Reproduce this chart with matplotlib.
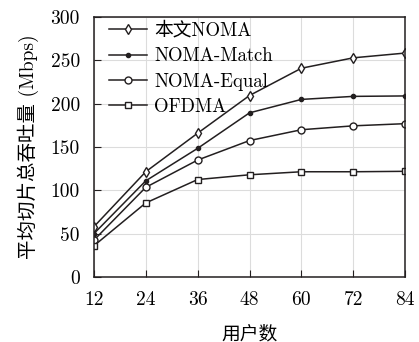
import numpy as np
import matplotlib
matplotlib.use('Agg')
import matplotlib.pyplot as plt

users = [12, 24, 36, 48, 60, 72, 84]
noma_ours = [58, 121.5, 166, 209.5, 241, 253, 258.5]
noma_match = [50, 111, 148.5, 189.5, 205, 208.5, 209]
noma_equal = [42.5, 103.5, 135, 157.5, 170, 174.5, 177]
ofdma = [36, 85.5, 112.5, 118, 121.5, 121.5, 122]
names = ['本文NOMA', 'NOMA-Match', 'NOMA-Equal', 'OFDMA']

plt.rcParams['font.family'] = ['cmr10', 'Noto Sans CJK SC']
plt.rcParams['axes.unicode_minus'] = False

fig = plt.figure(figsize=(4.19, 3.42), dpi=100)
ax = fig.add_axes([0.224, 0.19, 0.743, 0.76])
c = '#231f20'
ax.plot(users, noma_ours, color=c, lw=1.1, marker='d', ms=5, mfc='white', mew=1, label=names[0])
ax.plot(users, noma_match, color=c, lw=1.1, marker='o', ms=3, mfc=c, label=names[1])
ax.plot(users, noma_equal, color=c, lw=1.1, marker='o', ms=5, mfc='white', mew=1, label=names[2])
ax.plot(users, ofdma, color=c, lw=1.1, marker='s', ms=4, mfc='white', mew=1, label=names[3])

ax.set_xlim(12, 84)
ax.set_ylim(0, 300)
ax.set_xticks(users)
ax.set_yticks(np.arange(0, 301, 50))
ax.grid(True, color='#dcdcdc', lw=0.8)
ax.tick_params(direction='in', labelsize=14, color=c, length=5, top=False, right=False)
ax.tick_params(axis='y', pad=10)
ax.tick_params(axis='x', pad=10)
for s in ax.spines.values():
    s.set_color(c)
    s.set_linewidth(1.1)
ax.set_xlabel('用户数', fontsize=13.5, labelpad=12)
ax.set_ylabel('平均切片总吞吐量 (Mbps)', fontsize=14, labelpad=8)
ax.legend(loc='upper left', bbox_to_anchor=(0.05, 0.982), frameon=False, fontsize=13.5,
          handlelength=2.0, borderaxespad=0, borderpad=0, labelspacing=0.4, handletextpad=0.4)
fig.savefig('out.png', dpi=100)
